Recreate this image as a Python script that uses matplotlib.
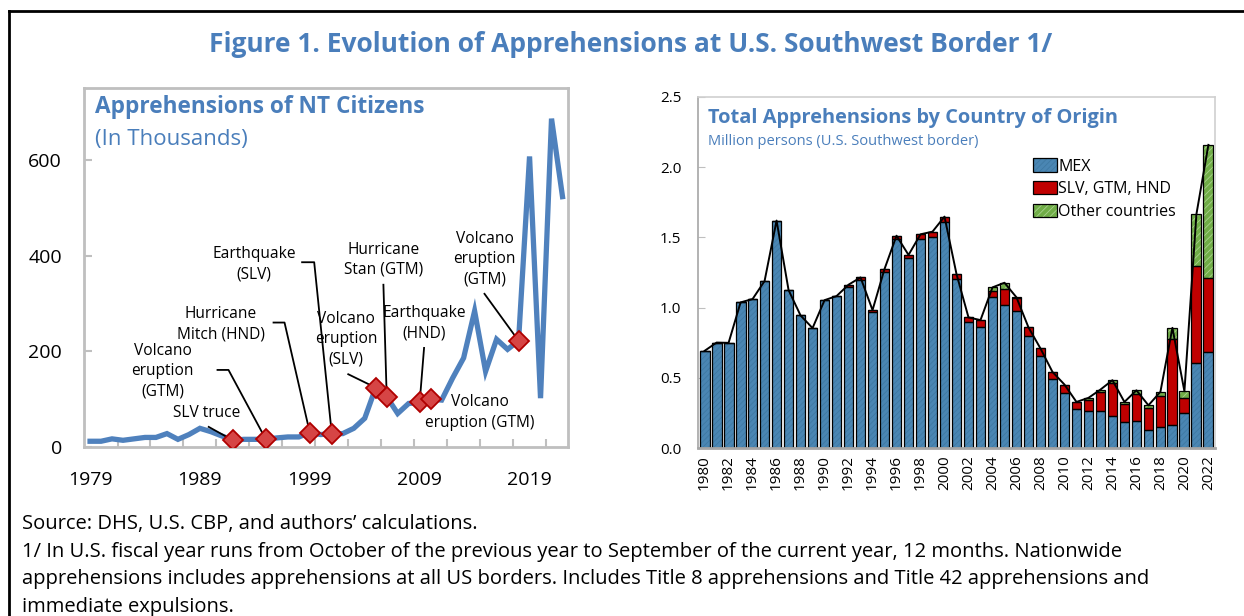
import numpy as np
import matplotlib
matplotlib.use("Agg")
import matplotlib.pyplot as plt
from matplotlib.lines import Line2D
from matplotlib.patches import Patch

plt.rcParams['font.family'] = ['Open Sans', 'DejaVu Sans']
plt.rcParams['hatch.linewidth'] = 0.6

# left panel: apprehensions of NT citizens (thousands)
nt_years = list(range(1979, 2023))
nt_values = [12, 12, 17, 14, 17, 20, 20, 28, 16, 26, 39, 32, 23, 14, 16, 16, 16, 19, 21, 21,
             30, 26, 28, 28, 39, 60, 124, 105, 70, 91, 93, 100, 98, 144, 186, 284, 158, 225, 204, 222,
             607, 102, 686, 523]
event_years = [1992, 1995, 1999, 2001, 2005, 2006, 2009, 2010, 2018]
event_labels = ["SLV truce", "Volcano\neruption\n(GTM)", "Hurricane\nMitch (HND)", "Earthquake\n(SLV)",
                "Volcano\neruption\n(SLV)", "Hurricane\nStan (GTM)", "Earthquake\n(HND)",
                "Volcano\neruption (GTM)", "Volcano\neruption\n(GTM)"]

# right panel: total apprehensions by country of origin (million persons)
bar_years = list(range(1980, 2023))
mex = [0.692, 0.751, 0.749, 1.037, 1.061, 1.189, 1.620, 1.125, 0.944, 0.854, 1.053, 1.082, 1.149,
       1.196, 0.966, 1.256, 1.489, 1.351, 1.489, 1.505, 1.612, 1.206, 0.899, 0.863, 1.073, 1.015,
       0.973, 0.799, 0.654, 0.495, 0.395, 0.281, 0.262, 0.264, 0.226, 0.186, 0.190, 0.126, 0.150,
       0.166, 0.252, 0.606, 0.683]
ca3 = [0, 0, 0, 0, 0, 0, 0, 0, 0, 0, 0, 0, 0.014, 0.019, 0.016, 0.019, 0.023, 0.024, 0.033, 0.036,
       0.036, 0.033, 0.031, 0.048, 0.047, 0.115, 0.092, 0.060, 0.055, 0.047, 0.057, 0.047, 0.083,
       0.136, 0.238, 0.130, 0.198, 0.162, 0.221, 0.609, 0.105, 0.690, 0.525]
other = [0, 0, 0, 0, 0, 0, 0, 0, 0, 0, 0, 0, 0, 0, 0, 0, 0, 0, 0, 0, 0, 0, 0, 0, 0.024, 0.047,
         0.008, 0, 0, 0, 0, 0, 0.012, 0.016, 0.019, 0.012, 0.023, 0.016, 0.029, 0.081, 0.047,
         0.369, 0.951]
series_names = ['MEX', 'SLV, GTM, HND', 'Other countries']

title_blue = '#4A7EBB'
line_blue = '#4F81BD'
grey = '#BFBFBF'

fig = plt.figure(figsize=(12.44, 6.16), dpi=100)

# outer frame (left and top only visible)
fig.add_artist(Line2D([9 / 1244, 9 / 1244], [0, 1 - 11 / 616], color='black', lw=2, transform=fig.transFigure))
fig.add_artist(Line2D([9 / 1244, 1], [1 - 11 / 616, 1 - 11 / 616], color='black', lw=2, transform=fig.transFigure))

fig.text(0.507, 1 - 45 / 616, "Figure 1. Evolution of Apprehensions at U.S. Southwest Border 1/",
         ha='center', va='center', fontsize=19, fontweight='bold', color=title_blue)

# ---- left chart ----
ax1 = fig.add_axes([84 / 1244, 1 - 447 / 616, 484 / 1244, 359 / 616])
ax1.plot(nt_years, nt_values, color=line_blue, lw=3.8, zorder=3, solid_joinstyle='miter')
ev_vals = [nt_values[nt_years.index(y)] for y in event_years]

text_pos = [(1989.6, 72), (1985.6, 158), (1990.9, 256), (1993.9, 382), (2002.3, 226),
            (2005.7, 391), (2009.4, 258), (2014.5, 72), (2014.9, 392)]
leader_start = [[(1989.8, 42)], [(1990.6, 161), (1991.6, 161)], [(1995.7, 260), (1996.7, 260)],
                [(1998.3, 386), (1999.4, 386)], [(2002.5, 152)], [(2005.7, 339)], [(2009.4, 207)],
                [], [(2014.9, 320)]]
for lab, (tx, ty), pts, ey, ev in zip(event_labels, text_pos, leader_start, event_years, ev_vals):
    ax1.text(tx, ty, lab, ha='center', va='center', fontsize=11.2, linespacing=1.35, zorder=5)
    if pts:
        xs = [p[0] for p in pts] + [ey]
        ys = [p[1] for p in pts] + [ev]
        ax1.plot(xs, ys, color='black', lw=1.3, zorder=4)
ax1.plot(event_years, ev_vals, 'D', ms=10, mfc='#D64545', mec='#B00000', mew=1.3, zorder=6)

ax1.set_xlim(1978.45, 2022.5)
ax1.set_ylim(0, 750)
ax1.set_yticks([0, 200, 400, 600])
ax1.set_xticks([1979, 1989, 1999, 2009, 2019])
ax1.set_xticks(np.arange(1981.5, 2021, 3), minor=True)
ax1.tick_params(axis='x', which='major', length=0, pad=17, labelsize=14)
ax1.tick_params(axis='x', which='minor', direction='in', length=6, color=grey, width=1.5)
ax1.tick_params(axis='y', direction='in', length=6, color=grey, width=1.5, pad=16, labelsize=14)
for s in ax1.spines.values():
    s.set_color(grey)
    s.set_linewidth(2)
ax1.text(0.022, 0.948, "Apprehensions of NT Citizens", transform=ax1.transAxes, fontsize=16.3,
         fontweight='bold', color=title_blue, va='center')
ax1.text(0.022, 0.857, "(In Thousands)", transform=ax1.transAxes, fontsize=16,
         color=title_blue, va='center')

# ---- right chart ----
ax2 = fig.add_axes([698 / 1244, 1 - 448 / 616, 517 / 1244, 351 / 616])
idx = np.arange(len(bar_years))
mex_a = np.array(mex)
ca3_a = np.array(ca3)
oth_a = np.array(other)
w = 0.82
fills = [('#4A86B3', '#3F79A3', '//////'), ('#C00000', '#C00000', None), ('#70AD47', '#A9D18E', '/////')]
bottoms = [np.zeros(len(idx)), mex_a, mex_a + ca3_a]
handles = []
for vals, bot, (fc, hc, hatch), name in zip([mex_a, ca3_a, oth_a], bottoms, fills, series_names):
    # hatched fill first, then the black outline on top
    ax2.bar(idx, vals, w, bottom=bot, color=fc, edgecolor=hc, lw=0, hatch=hatch, zorder=2)
    ax2.bar(idx, vals, w, bottom=bot, facecolor='none', edgecolor='black', lw=0.9, zorder=2.5)
    handles.append((Patch(facecolor=fc, edgecolor=hc, hatch=hatch, lw=0),
                    Patch(facecolor='none', edgecolor='black', lw=0.9)))
ax2.plot(idx, mex_a + ca3_a + oth_a, color='black', lw=1.4, zorder=3)

ax2.set_xlim(-0.55, len(bar_years) - 0.45)
ax2.set_ylim(0, 2.5)
ax2.set_yticks(np.arange(0, 2.51, 0.5))
ax2.set_yticklabels(['%.1f' % v for v in np.arange(0, 2.51, 0.5)])
ax2.set_xticks(idx[::2])
ax2.set_xticklabels([str(y) for y in bar_years[::2]], rotation=90)
ax2.tick_params(axis='x', length=0, pad=5, labelsize=11)
ax2.tick_params(axis='y', direction='in', length=5, color=grey, pad=12, labelsize=11)
for s in ax2.spines.values():
    s.set_color('#D0D0D0')
    s.set_linewidth(1.2)
ax2.spines['left'].set_color('#A6A6A6')
ax2.spines['bottom'].set_color('#A6A6A6')
ax2.spines['bottom'].set_linewidth(2)

ax2.text(0.02, 0.94, "Total Apprehensions by Country of Origin", transform=ax2.transAxes,
         fontsize=14.4, fontweight='bold', color=title_blue, va='center')
ax2.text(0.02, 0.872, "Million persons (U.S. Southwest border)", transform=ax2.transAxes,
         fontsize=10.5, color=title_blue, va='center')
ax2.legend(handles, series_names, loc='upper left', bbox_to_anchor=(0.635, 0.843), frameon=False,
           fontsize=11.5, handlelength=1.5, handleheight=0.9, handletextpad=0.1, labelspacing=0.4,
           borderaxespad=0)

# ---- footnotes ----
notes = ["Source: DHS, U.S. CBP, and authors\u2019 calculations.",
         "1/ In U.S. fiscal year runs from October of the previous year to September of the current year, 12 months. Nationwide",
         "apprehensions includes apprehensions at all US borders. Includes Title 8 apprehensions and Title 42 apprehensions and",
         "immediate expulsions."]
for i, line in enumerate(notes):
    fig.text(22 / 1244, 1 - (524 + 27.7 * i) / 616, line, fontsize=14.5, va='center', ha='left')

fig.savefig("out.png", dpi=100)
